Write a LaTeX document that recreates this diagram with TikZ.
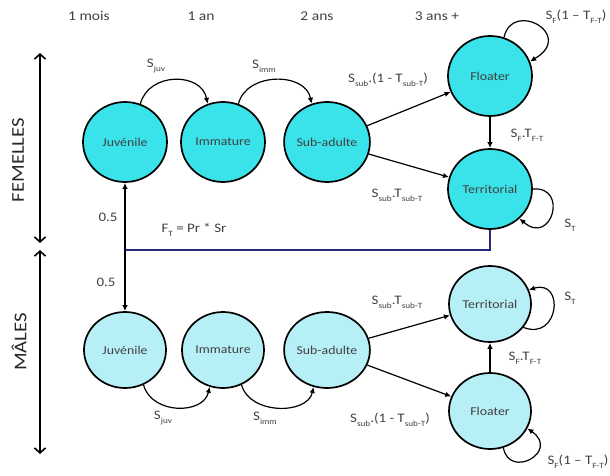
\documentclass[tikz,border=0pt]{standalone}
\usepackage{fontspec}
\setmainfont[FakeStretch=1.15]{Carlito}
\usetikzlibrary{shapes.geometric,arrows.meta}
\definecolor{femc}{RGB}{58,226,234}
\definecolor{malec}{RGB}{182,240,246}
\definecolor{linkc}{RGB}{40,40,125}
\definecolor{txtc}{RGB}{65,65,65}
\newcommand\lsub[1]{\raisebox{-0.6ex}{\fontsize{8}{9}\selectfont #1}}
\begin{document}
\begin{tikzpicture}[x=1pt,y=-1pt,
  fem/.style={ellipse, draw=black, line width=1.7pt, fill=femc, minimum width=84pt, minimum height=80pt, inner sep=0pt, font=\fontsize{12}{14}\selectfont, text=txtc},
  mal/.style={fem, fill=malec, minimum width=82pt, minimum height=76pt},
  lab/.style={font=\fontsize{13}{15}\selectfont, text=txtc, inner sep=0pt},
  hdr/.style={font=\fontsize{13.5}{15}\selectfont, text=txtc, inner sep=0pt},
  side/.style={font=\fontsize{18}{20}\selectfont, text=black!85, inner sep=0pt, rotate=90},
  arr/.style={-{Latex[length=6pt,width=5.5pt]}, line width=1.2pt},
  dbl/.style={{Straight Barb[length=5pt,width=11pt]}-{Straight Barb[length=5pt,width=11pt]}, line width=1.6pt},
  link/.style={draw=linkc, line width=1.6pt}]
\useasboundingbox (0,0) rectangle (610,476);

% headers
\node[hdr] (h1) at (89,16) {1 mois};
\node[hdr] (h2) at (201,16) {1 an};
\node[hdr] (h3) at (317,16) {2 ans};
\node[hdr] (h4) at (437,16) {3 ans +};

% side labels and arrows
\node[side] (fem) at (18,160) {FEMELLES};
\node[side] (mal) at (19,342) {MÂLES};
\coordinate (ft) at (40,53);
\coordinate (fb) at (40,243);
\coordinate (mt) at (40,250);
\coordinate (mb) at (40,454);
\draw[dbl] (ft) -- (fb);
\draw[dbl] (mt) -- (mb);

% female nodes
\node[fem] (jf) at (125,142) {Juvénile};
\node[fem] (if) at (223,142) {Immature};
\node[fem] (sf) at (327,142) {Sub-adulte};
\node[fem] (ff) at (490,76) {Floater};
\node[fem] (tf) at (490,189) {Territorial};

% male nodes
\node[mal] (jm) at (125,350) {Juvénile};
\node[mal] (im) at (223,350) {Immature};
\node[mal] (sm) at (327,350) {Sub-adulte};
\node[mal] (tm) at (490,304) {Territorial};
\node[mal] (fm) at (490,411) {Floater};

% female arrows
\draw[arr] (jf.68) .. controls +(8,-32) and +(-6,-32) .. (if.112);
\draw[arr] (if.68) .. controls +(8,-32) and +(-6,-32) .. (sf.112);
\draw[arr] (sf) -- (ff);
\draw[arr] (sf) -- (tf);
\draw[arr] (ff) -- (tf);
\draw[arr] (ff.70) .. controls +(8,-38) and +(46,-27) .. (ff.20);
\draw[arr] (tf.0) .. controls +(36,-3) and +(32,28) .. (tf.-45);

% male arrows
\draw[arr] (jm.-62) .. controls +(8,30) and +(-6,28) .. (im.-110);
\draw[arr] (im.-62) .. controls +(8,30) and +(-6,28) .. (sm.-110);
\draw[arr] (sm) -- (tm);
\draw[arr] (sm) -- (fm);
\draw[arr] (fm) -- (tm);
\draw[arr] (tm.-35) .. controls +(36,14) and +(36,-11) .. (tm.20);
\draw[arr] (fm.-70) .. controls +(6,32) and +(33,23) .. (fm.-25);

% reproduction link
\coordinate (corner) at (490,250);
\coordinate (split) at (125,250);
\draw[link] (tf.south) -- (corner) -- (split);
\draw[arr] (split) -- (jf);
\draw[arr] (split) -- (jm);

% labels female
\node[lab] (l1) at (156,66) {S\lsub{juv}};
\node[lab] (l2) at (264,66) {S\lsub{imm}};
\node[lab] (l3) at (388,80) {S\lsub{sub}.(1 - T\lsub{sub-T})};
\node[lab] (l4) at (397,195) {S\lsub{sub}.T\lsub{sub-T}};
\node[lab] (l5) at (527,135) {S\lsub{F}.T\lsub{F-T}};
\node[lab] (l6) at (570,225) {S\lsub{T}};
\node[lab] (l7) at (576,17) {S\lsub{F}(1 -- T\lsub{F-T})};
\node[lab] (l8) at (194,230) {F\lsub{T} = Pr * Sr};
\node[lab] (l9) at (108,217) {0.5};
\node[lab] (l10) at (106,282) {0.5};

% labels male
\node[lab] (m1) at (163,418) {S\lsub{juv}};
\node[lab] (m2) at (265,418) {S\lsub{imm}};
\node[lab] (m3) at (397,302) {S\lsub{sub}.T\lsub{sub-T}};
\node[lab] (m4) at (570,298) {S\lsub{T}};
\node[lab] (m5) at (525,358) {S\lsub{F}.T\lsub{F-T}};
\node[lab] (m6) at (390,420) {S\lsub{sub}.(1 - T\lsub{sub-T})};
\node[lab] (m7) at (578,462) {S\lsub{F}(1 -- T\lsub{F-T})};
\end{tikzpicture}
\end{document}
